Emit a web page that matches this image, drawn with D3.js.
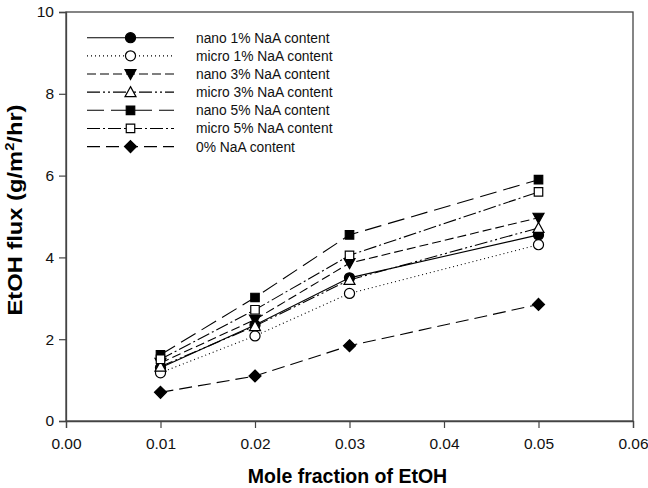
<!DOCTYPE html>
<html>
<head>
<meta charset="utf-8">
<script src="https://cdn.jsdelivr.net/npm/d3@7"></script>
<style>
	body { margin: 0; background: #fff; }
	text { font-family: "Liberation Sans", Arial, sans-serif; }
</style>
</head>
<body>
<div id="container"></div>
<script>
// data
var moleFraction = [0.01, 0.02, 0.03, 0.05];
var nano1 = [1.30, 2.35, 3.50, 4.55];
var micro1 = [1.18, 2.08, 3.12, 4.31];
var nano3 = [1.42, 2.48, 3.86, 4.97];
var micro3 = [1.33, 2.32, 3.45, 4.72];
var nano5 = [1.62, 3.02, 4.55, 5.90];
var micro5 = [1.51, 2.72, 4.05, 5.60];
var zeroNaA = [0.70, 1.10, 1.84, 2.85];
var seriesNames = ["nano 1% NaA content", "micro 1% NaA content", "nano 3% NaA content",
	"micro 3% NaA content", "nano 5% NaA content", "micro 5% NaA content", "0% NaA content"];
var xTicks = [0.00, 0.01, 0.02, 0.03, 0.04, 0.05, 0.06];
var yTicks = [0, 2, 4, 6, 8, 10];

(function()
{
	var width = 648, height = 488;
	var left = 66, right = 633, top = 12, bottom = 421;

	var svg = d3.select("#container").append("svg").attr("width", width).attr("height", height);

	var x = d3.scaleLinear().domain([0, 0.06]).range([left, right]);
	var y = d3.scaleLinear().domain([0, 10]).range([bottom, top]);

	var series = [
		{ name: seriesNames[0], values: nano1, dash: null, symbol: "circle", filled: true },
		{ name: seriesNames[1], values: micro1, dash: "1,3", symbol: "circle", filled: false },
		{ name: seriesNames[2], values: nano3, dash: "9,4", symbol: "down", filled: true },
		{ name: seriesNames[3], values: micro3, dash: "13,3,2,3,2,3", symbol: "up", filled: false },
		{ name: seriesNames[4], values: nano5, dash: "17,7", symbol: "square", filled: true },
		{ name: seriesNames[5], values: micro5, dash: "13,3,2,3", symbol: "square", filled: false },
		{ name: seriesNames[6], values: zeroNaA, dash: "13,6", symbol: "diamond", filled: true }
	];

	function symbolPath(kind)
	{
		if (kind == "circle") return d3.symbol(d3.symbolCircle, 80)();
		if (kind == "square") return d3.symbol(d3.symbolSquare, 72)();
		if (kind == "diamond") return "M0,-6L6,0L0,6L-6,0Z";
		if (kind == "up") return "M0,-5.5L5.5,4.5L-5.5,4.5Z";
		return "M0,5.5L5.5,-4.5L-5.5,-4.5Z";
	}

	// frame
	svg.append("rect").attr("x", left).attr("y", top).attr("width", right - left).attr("height", bottom - top)
		.attr("fill", "none").attr("stroke", "#444").attr("stroke-width", 1.3);

	// axes
	var xAxis = svg.append("g").attr("transform", "translate(0," + bottom + ")")
		.call(d3.axisBottom(x).tickValues(xTicks).tickFormat(d3.format(".2f")).tickSizeOuter(0).tickSize(7).tickPadding(10));
	var yAxis = svg.append("g").attr("transform", "translate(" + left + ",0)")
		.call(d3.axisLeft(y).tickValues(yTicks).tickFormat(d3.format("d")).tickSizeOuter(0).tickSize(7).tickPadding(5));
	[xAxis, yAxis].forEach(function(a)
	{
		a.select(".domain").attr("stroke", "#444").attr("stroke-width", 1.3);
		a.selectAll(".tick line").attr("stroke", "#444").attr("stroke-width", 1.2);
		a.selectAll(".tick text").attr("font-size", "15.5px").attr("fill", "#111")
			.style("font-family", "'Liberation Sans', Arial, sans-serif");
	});

	// axis titles
	svg.append("text").attr("x", (left + right) / 2 - 2).attr("y", 483).attr("text-anchor", "middle")
		.attr("font-size", "19.5px").attr("font-weight", "bold").text("Mole fraction of EtOH");
	var yt = svg.append("text").attr("transform", "translate(22,210) rotate(-90) scale(1.13,1)")
		.attr("text-anchor", "middle").attr("font-size", "21px").attr("font-weight", "bold");
	yt.append("tspan").text("EtOH flux (g/m");
	yt.append("tspan").attr("font-size", "13px").attr("dy", -8).text("2");
	yt.append("tspan").attr("dy", 8).text("/hr)");

	var line = d3.line().x(function(d, i) { return x(moleFraction[i]); }).y(function(d) { return y(d); });

	series.forEach(function(s)
	{
		svg.append("path").attr("d", line(s.values)).attr("fill", "none").attr("stroke", "#000")
			.attr("stroke-width", 1.1).attr("stroke-dasharray", s.dash);
	});
	series.forEach(function(s)
	{
		svg.selectAll(null).data(s.values).enter().append("path")
			.attr("transform", function(d, i) { return "translate(" + x(moleFraction[i]) + "," + y(d) + ")"; })
			.attr("d", symbolPath(s.symbol))
			.attr("fill", s.filled ? "#000" : "#fff").attr("stroke", "#000").attr("stroke-width", 1.2);
	});

	// legend
	var legend = svg.append("g");
	series.forEach(function(s, i)
	{
		var ly = 37.7 + i * 18.15;
		legend.append("line").attr("x1", 87).attr("x2", 174).attr("y1", ly).attr("y2", ly)
			.attr("stroke", "#000").attr("stroke-width", 1.1).attr("stroke-dasharray", s.dash);
		legend.append("path").attr("transform", "translate(130.5," + ly + ")").attr("d", symbolPath(s.symbol))
			.attr("fill", s.filled ? "#000" : "#fff").attr("stroke", "#000").attr("stroke-width", 1.2);
		legend.append("text").attr("x", 196).attr("y", ly + 5).attr("font-size", "13.8px").attr("fill", "#111").text(s.name);
	});
})();
</script>
</body>
</html>
